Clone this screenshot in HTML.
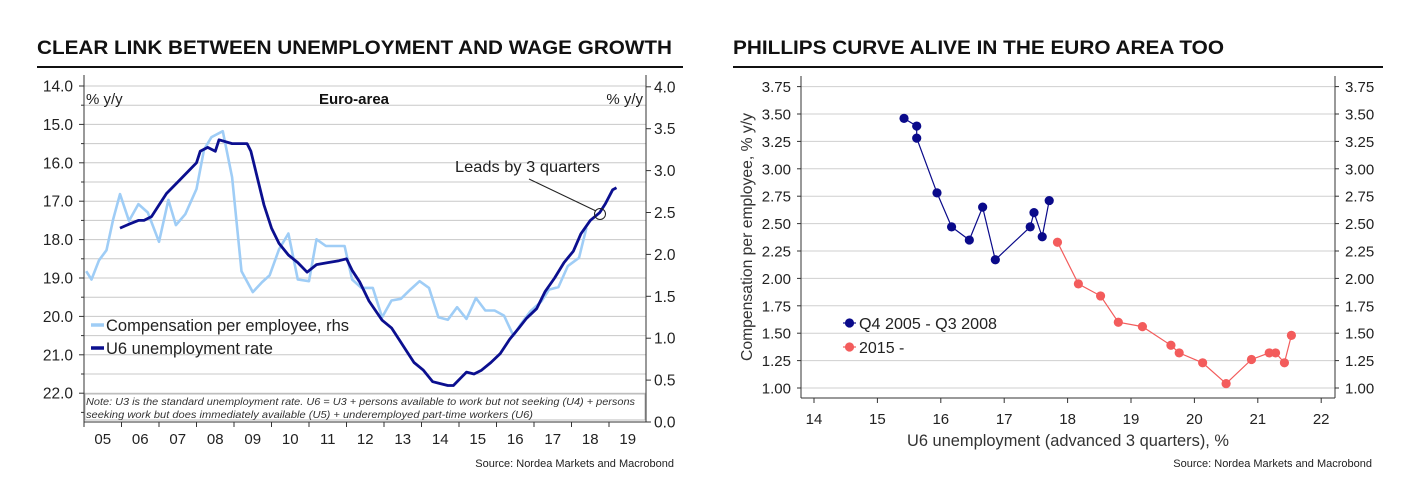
<!DOCTYPE html>
<html><head><meta charset="utf-8"><style>
html,body{margin:0;padding:0;background:#fff;}
svg{display:block;font-family:"Liberation Sans",sans-serif;}
</style></head><body>
<svg id="chart" width="1424" height="483" viewBox="0 0 1424 483" xmlns="http://www.w3.org/2000/svg">
<text x="37" y="54" font-size="19.5" font-weight="bold" fill="#111" textLength="635" lengthAdjust="spacingAndGlyphs">CLEAR LINK BETWEEN UNEMPLOYMENT AND WAGE GROWTH</text>
<rect x="37" y="66" width="646" height="2" fill="#111"/>
<text x="733" y="54" font-size="19.5" font-weight="bold" fill="#111" textLength="491" lengthAdjust="spacingAndGlyphs">PHILLIPS CURVE ALIVE IN THE EURO AREA TOO</text>
<rect x="733" y="66" width="650" height="2" fill="#111"/>
<g id="left"></g>
<g id="right"></g>
<text x="674" y="467" font-size="11" text-anchor="end" fill="#222">Source: Nordea Markets and Macrobond</text>
<text x="1372" y="467" font-size="11" text-anchor="end" fill="#222">Source: Nordea Markets and Macrobond</text>
</svg>
<script>
// ---- Left chart data ----
const u6Years = [2005.96,2006.2,2006.45,2006.6,2006.8,2007.0,2007.2,2007.5,2007.8,2008.0,2008.1,2008.3,2008.5,2008.6,2008.95,2009.2,2009.35,2009.45,2009.6,2009.8,2010.0,2010.2,2010.45,2010.7,2010.95,2011.2,2011.5,2011.8,2012.0,2012.15,2012.35,2012.6,2012.95,2013.2,2013.4,2013.6,2013.8,2014.05,2014.3,2014.5,2014.7,2014.85,2015.05,2015.2,2015.4,2015.6,2015.85,2016.1,2016.35,2016.6,2016.8,2017.07,2017.3,2017.55,2017.8,2018.05,2018.25,2018.5,2018.75,2018.9,2019.1,2019.2];
const u6Values = [17.7,17.6,17.5,17.5,17.4,17.1,16.8,16.5,16.2,16.0,15.7,15.6,15.7,15.4,15.5,15.5,15.5,15.7,16.3,17.1,17.7,18.1,18.4,18.6,18.85,18.65,18.6,18.55,18.5,18.8,19.1,19.6,20.1,20.3,20.6,20.9,21.2,21.4,21.7,21.75,21.8,21.8,21.6,21.45,21.5,21.4,21.2,20.97,20.6,20.3,20.05,19.8,19.35,19.0,18.6,18.3,17.85,17.5,17.3,17.07,16.7,16.65];
const compYears = [2005.06,2005.2,2005.4,2005.6,2005.78,2005.96,2006.2,2006.45,2006.7,2007.0,2007.25,2007.45,2007.7,2008.0,2008.2,2008.4,2008.7,2008.95,2009.2,2009.5,2009.75,2009.95,2010.2,2010.45,2010.7,2011.0,2011.2,2011.45,2011.95,2012.15,2012.4,2012.7,2012.95,2013.2,2013.45,2013.7,2013.95,2014.2,2014.45,2014.7,2014.95,2015.2,2015.45,2015.7,2015.95,2016.2,2016.45,2016.65,2016.9,2017.2,2017.4,2017.65,2017.9,2018.2,2018.4];
const compValues = [1.8,1.7,1.93,2.05,2.42,2.72,2.4,2.6,2.5,2.15,2.65,2.35,2.48,2.78,3.25,3.4,3.47,2.92,1.8,1.55,1.67,1.75,2.06,2.25,1.7,1.68,2.18,2.1,2.1,1.7,1.6,1.6,1.25,1.45,1.47,1.58,1.68,1.6,1.25,1.22,1.37,1.23,1.48,1.33,1.33,1.27,1.03,1.17,1.32,1.44,1.58,1.61,1.86,1.96,2.32];
const leftTicks = ["14.0","15.0","16.0","17.0","18.0","19.0","20.0","21.0","22.0"];
const rightTicks = ["0.0","0.5","1.0","1.5","2.0","2.5","3.0","3.5","4.0"];
const yearLabels = ["05","06","07","08","09","10","11","12","13","14","15","16","17","18","19"];
// ---- Right chart data ----
const blueX = [15.42,15.62,15.62,15.94,16.17,16.45,16.66,16.86,17.41,17.47,17.60,17.71];
const blueY = [3.46,3.39,3.28,2.78,2.47,2.35,2.65,2.17,2.47,2.60,2.38,2.71];
const redX = [17.84,18.17,18.52,18.80,19.18,19.63,19.76,20.13,20.50,20.90,21.18,21.28,21.42,21.53];
const redY = [2.33,1.95,1.84,1.60,1.56,1.39,1.32,1.23,1.04,1.26,1.32,1.32,1.23,1.48];
const scatterYTicks = ["1.00","1.25","1.50","1.75","2.00","2.25","2.50","2.75","3.00","3.25","3.50","3.75"];
const scatterXTicks = ["14","15","16","17","18","19","20","21","22"];

const NS = "http://www.w3.org/2000/svg";
function mk(parent, tag, attrs, text){
  const e = document.createElementNS(NS, tag);
  for (const k in attrs) e.setAttribute(k, attrs[k]);
  if (text !== undefined) e.textContent = text;
  parent.appendChild(e);
  return e;
}
const NAVY = "#0b0f8f", LIGHT = "#9fcdf6", RED = "#f35c5c", BLUE = "#0a0a8a";

// ===== Left chart =====
const L = document.getElementById('left');
const LX0 = 84, LX1 = 646, LYT = 75, LYB = 422;
const xYear = y => LX0 + (y - 2005) * 37.5;
const yLeft = v => 86 + (v - 14) * 38.4;
const yRight = v => 422 - v * 83.8;

for (let v = 14; v <= 22.01; v += 0.5) {
  const g = mk(L, 'line', {x1: LX0, x2: LX1, y1: yLeft(v), y2: yLeft(v), stroke: "#c8c8c8", "stroke-width": 1});
  
  
}
let a = mk(L, 'line', {x1: LX0, x2: LX0, y1: LYT, y2: LYB, stroke: "#333", "stroke-width": 1});


a = mk(L, 'line', {x1: LX1, x2: LX1, y1: LYT, y2: LYB, stroke: "#333", "stroke-width": 1});


a = mk(L, 'line', {x1: LX0, x2: LX1, y1: LYB, y2: LYB, stroke: "#333", "stroke-width": 1});



leftTicks.forEach((t) => {
  const v = parseFloat(t);
  const y = yLeft(v);
  mk(L, 'line', {x1: LX0 - 5, x2: LX0, y1: y, y2: y, stroke: "#333"});
  mk(L, 'line', {x1: LX0 - 3, x2: LX0, y1: y + 19.2, y2: y + 19.2, stroke: "#333"});
  const e = mk(L, 'text', {x: 73, y: y + 5.5, "font-size": 15.5, "text-anchor": "end", fill: "#222"}, t);
  
  
});
rightTicks.forEach((t) => {
  const v = parseFloat(t);
  const y = yRight(v);
  mk(L, 'line', {x1: LX1, x2: LX1 + 5, y1: y, y2: y, stroke: "#333"});
  const e = mk(L, 'text', {x: 654, y: y + 5.5, "font-size": 15.5, fill: "#222"}, t);
  
  
});
yearLabels.forEach((t, i) => {
  const x = xYear(2005 + i);
  mk(L, 'line', {x1: x, x2: x, y1: LYB, y2: LYB + 5, stroke: "#333"});
  const e = mk(L, 'text', {x: x + 18.75, y: 444, "font-size": 15, "text-anchor": "middle", fill: "#222"}, t);
  
  
});

// note box
let nb = mk(L, 'rect', {x: LX0 + 1, y: 394, width: LX1 - LX0 - 2, height: 26, fill: "#fff", stroke: "#aaa", "stroke-width": 0.8});


nb = mk(L, 'text', {x: 86, y: 405, "font-size": 10.5, "font-style": "italic", fill: "#333", textLength: 549, lengthAdjust: "spacingAndGlyphs"}, "Note: U3 is the standard unemployment rate. U6 = U3 + persons available to work but not seeking (U4) + persons");


nb = mk(L, 'text', {x: 86, y: 418, "font-size": 10.5, "font-style": "italic", fill: "#333", textLength: 447, lengthAdjust: "spacingAndGlyphs"}, "seeking work but does immediately available (U5) + underemployed part-time workers (U6)");



// series
let pts = compYears.map((y, i) => xYear(y).toFixed(1) + "," + yRight(compValues[i]).toFixed(1)).join(" ");
let s = mk(L, 'polyline', {points: pts, fill: "none", stroke: LIGHT, "stroke-width": 2.6, "stroke-linejoin": "round"});


pts = u6Years.map((y, i) => xYear(y).toFixed(1) + "," + yLeft(u6Values[i]).toFixed(1)).join(" ");
s = mk(L, 'polyline', {points: pts, fill: "none", stroke: NAVY, "stroke-width": 2.8, "stroke-linejoin": "round"});



// labels
let t = mk(L, 'text', {x: 86, y: 104, "font-size": 15, fill: "#222"}, "% y/y");


t = mk(L, 'text', {x: 643, y: 104, "font-size": 15, "text-anchor": "end", fill: "#222"}, "% y/y");


t = mk(L, 'text', {x: 354, y: 104, "font-size": 15, "font-weight": "bold", "text-anchor": "middle", fill: "#111"}, "Euro-area");


t = mk(L, 'text', {x: 455, y: 172, "font-size": 16, fill: "#222", textLength: 145, lengthAdjust: "spacingAndGlyphs"}, "Leads by 3 quarters");


t = mk(L, 'line', {x1: 529, y1: 179, x2: 596, y2: 211, stroke: "#222", "stroke-width": 1});


t = mk(L, 'circle', {cx: 600, cy: 214, r: 5.5, fill: "none", stroke: "#222", "stroke-width": 1});



t = mk(L, 'line', {x1: 91, x2: 104, y1: 325, y2: 325, stroke: LIGHT, "stroke-width": 3.5});


t = mk(L, 'text', {x: 106, y: 331, "font-size": 16.5, fill: "#222", textLength: 243, lengthAdjust: "spacingAndGlyphs"}, "Compensation per employee, rhs");


t = mk(L, 'line', {x1: 91, x2: 104, y1: 348, y2: 348, stroke: NAVY, "stroke-width": 3.5});


t = mk(L, 'text', {x: 106, y: 354, "font-size": 16.5, fill: "#222"}, "U6 unemployment rate");



// ===== Right chart =====
const R = document.getElementById('right');
const RX0 = 801, RX1 = 1335, RYT = 76, RYB = 398;
const sx = v => 814 + (v - 14) * 63.4;
const sy = v => 388 - (v - 1) * 109.6;

scatterYTicks.forEach((tk) => {
  const v = parseFloat(tk);
  const y = sy(v);
  let g = mk(R, 'line', {x1: RX0, x2: RX1, y1: y, y2: y, stroke: "#cfcfcf", "stroke-width": 1});
  
  
  mk(R, 'line', {x1: RX0 - 4, x2: RX0, y1: y, y2: y, stroke: "#333"});
  mk(R, 'line', {x1: RX1, x2: RX1 + 4, y1: y, y2: y, stroke: "#333"});
  g = mk(R, 'text', {x: 791, y: y + 5.5, "font-size": 15, "text-anchor": "end", fill: "#222"}, tk);
  
  
  g = mk(R, 'text', {x: 1345, y: y + 5.5, "font-size": 15, fill: "#222"}, tk);
  
  
});
scatterXTicks.forEach((tk) => {
  const x = sx(parseFloat(tk));
  mk(R, 'line', {x1: x, x2: x, y1: RYB, y2: RYB + 5, stroke: "#333"});
  const g = mk(R, 'text', {x: x, y: 424, "font-size": 15, "text-anchor": "middle", fill: "#222"}, tk);
  
  
});
a = mk(R, 'line', {x1: RX0, x2: RX0, y1: RYT, y2: RYB, stroke: "#333"});


a = mk(R, 'line', {x1: RX1, x2: RX1, y1: RYT, y2: RYB, stroke: "#333"});


a = mk(R, 'line', {x1: RX0, x2: RX1, y1: RYB, y2: RYB, stroke: "#333"});



function series(xs, ys, color, name){
  const p = xs.map((x, i) => sx(x).toFixed(1) + "," + sy(ys[i]).toFixed(1)).join(" ");
  const l = mk(R, 'polyline', {points: p, fill: "none", stroke: color, "stroke-width": 1.2});
  
  
  xs.forEach((x, i) => {
    const c = mk(R, 'circle', {cx: sx(x), cy: sy(ys[i]), r: 4.6, fill: color});
    
    
  });
}
series(blueX, blueY, BLUE, 'precrisis');
series(redX, redY, RED, 'recent');

t = mk(R, 'text', {x: 752, y: 237, "font-size": 15.5, "text-anchor": "middle", fill: "#333", transform: "rotate(-90 752 237)", textLength: 248, lengthAdjust: "spacingAndGlyphs"}, "Compensation per employee, % y/y");


t = mk(R, 'text', {x: 1068, y: 446, "font-size": 16.5, "text-anchor": "middle", fill: "#333", textLength: 322, lengthAdjust: "spacingAndGlyphs"}, "U6 unemployment (advanced 3 quarters), %");



mk(R, 'line', {x1: 843, x2: 856, y1: 323, y2: 323, stroke: BLUE, "stroke-width": 1.2});
t = mk(R, 'circle', {cx: 849.5, cy: 323, r: 4.6, fill: BLUE});


t = mk(R, 'text', {x: 859, y: 329, "font-size": 16, fill: "#222", textLength: 138, lengthAdjust: "spacingAndGlyphs"}, "Q4 2005 - Q3 2008");


mk(R, 'line', {x1: 843, x2: 856, y1: 347, y2: 347, stroke: RED, "stroke-width": 1.2});
t = mk(R, 'circle', {cx: 849.5, cy: 347, r: 4.6, fill: RED});


t = mk(R, 'text', {x: 859, y: 353, "font-size": 16, fill: "#222"}, "2015 -");


</script>
</body></html>
